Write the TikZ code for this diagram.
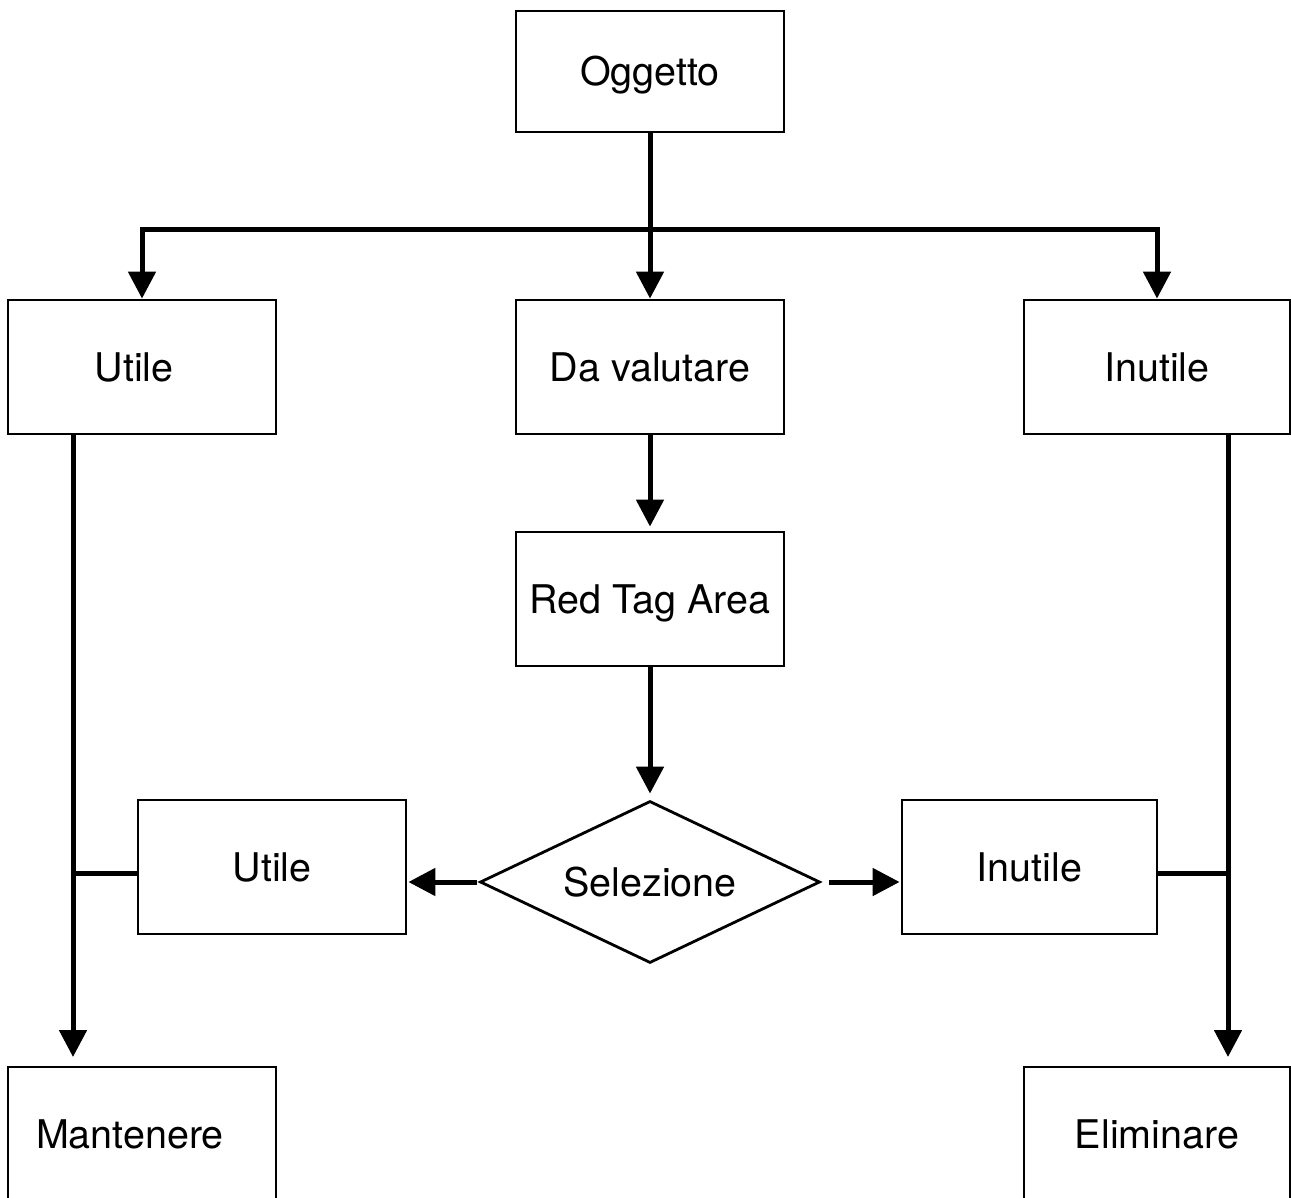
\documentclass[tikz,border=0pt]{standalone}
\usepackage{fontspec}
\setmainfont{TeX Gyre Heros}
\usetikzlibrary{arrows.meta,shapes.geometric}
\begin{document}
\begin{tikzpicture}[x=1pt,y=-1pt,
  box/.style={draw,line width=2.8pt,rectangle,minimum width=268pt,minimum height=134pt,inner sep=0pt},
  conn/.style={line width=5pt,-{Triangle[length=27pt,width=27pt]}},
  link/.style={line width=5pt},
  every node/.style={font=\fontsize{39.5}{48}\selectfont,text height=28.5pt,text depth=0pt}]
\useasboundingbox (0,0) rectangle (1291,1198);
\node[box,minimum height=121pt] (O) at (650,71.5) {Oggetto};
\node[box,label={[xshift=-8pt]center:Utile}] (U) at (142,367) {};
\node[box] (D) at (650,367) {Da valutare};
\node[box,minimum width=266pt] (I) at (1157,367) {Inutile};
\node[box] (R) at (650,599) {Red Tag Area};
\node[draw,line width=2.8pt,diamond,aspect=2.1,minimum width=340pt,minimum height=162pt,inner sep=0pt] (S) at (650,882) {Selezione};
\node[box] (U2) at (272,867) {Utile};
\node[box,minimum width=255pt] (I2) at (1029.5,867) {Inutile};
\node[box,label={[xshift=-12pt]center:Mantenere}] (M) at (142,1134) {};
\node[box,minimum width=266pt] (E) at (1157,1134) {Eliminare};
\coordinate (hub) at (650,230);
\coordinate (ut) at (73,434);
\coordinate (ub) at (73,1067);
\coordinate (uj) at (73,873);
\coordinate (it) at (1228,434);
\coordinate (ib) at (1228,1067);
\coordinate (ij) at (1228,873);
\draw[link] (O.south) -- (hub);
\draw[conn] (hub) -- (D.north);
\draw[conn] (hub) -| (U.north);
\draw[conn] (hub) -| (I.north);
\draw[conn,shorten >=4pt] (D.south) -- (R.north);
\draw[conn,shorten >=6pt] (R.south) -- (S.north);
\draw[conn,shorten <=2pt,shorten >=1pt] (S.west) -- (S.west -| U2.east);
\draw[conn,shorten <=8pt,shorten >=1pt] (S.east) -- (S.east -| I2.west);
\draw[conn,shorten >=10pt] (ut) -- (ub);
\draw[conn,shorten >=10pt] (it) -- (ib);
\draw[link] (U2.west |- uj) -- (uj);
\draw[link] (I2.east |- ij) -- (ij);
\end{tikzpicture}
\end{document}
